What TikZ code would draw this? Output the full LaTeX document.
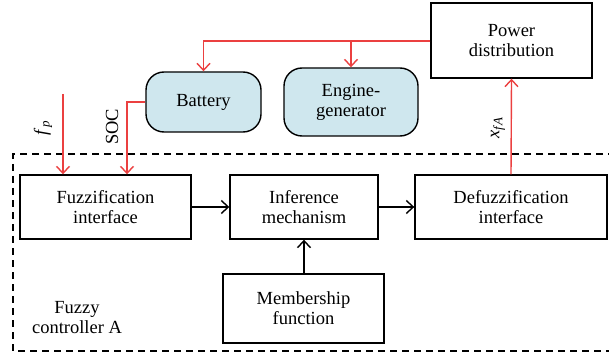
\documentclass[tikz,border=0pt]{standalone}
\usepackage{fontspec}
\setmainfont{Liberation Serif}
\usepackage{xcolor}
\usetikzlibrary{arrows.meta}

\definecolor{linkred}{RGB}{235,64,64}
\definecolor{unitblue}{RGB}{207,231,238}

\begin{document}
\begin{tikzpicture}[x=1pt,y=-1pt,
  every node/.style={font=\fontsize{18.5}{20}\selectfont,align=center,inner sep=0pt},
  block/.style={draw,line width=1.4pt,minimum width=#1},
  unit/.style={block=#1,fill=unitblue,rounded corners=18pt},
  sig/.style={draw=linkred,line width=1.4pt,-{Straight Barb[length=7pt,width=13pt]}},
  flow/.style={line width=1.4pt,-{Straight Barb[length=7pt,width=13pt]}}]
\useasboundingbox (0,0) rectangle (609,355);

% dashed frame of the controller (runs off the right edge)
\draw[line width=1.3pt,dash pattern=on 7pt off 5pt] (615,154) -- (13,154) -- (13,351) -- (615,351);

\node[block=161pt,minimum height=75pt] (power) at (511.5,40.5) {Power\\distribution};
\node[unit=115pt,minimum height=60pt] (battery) at (203.5,102) {Battery};
\node[unit=134pt,minimum height=68pt] (engine) at (351,102) {Engine-\\generator};

\node[block=171pt,minimum height=64pt] (fuzz) at (105.5,207) {Fuzzification\\interface};
\node[block=148pt,minimum height=64pt] (infer) at (304,207) {Inference\\mechanism};
\node[block=192pt,minimum height=64pt] (defuzz) at (511,207) {Defuzzification\\interface};
\node[block=161pt,minimum height=69pt] (member) at (303.5,308.5) {Membership\\function};

\node (ctrl) at (77,318) {Fuzzy\\controller A};

% red signals
\coordinate (fpin) at (63,94);
\coordinate (split) at (351,41);
\draw[sig] (power.west |- split) -| (battery.north);
\draw[sig] (split) -- (engine.north);
\draw[sig] (battery.west) -| (fuzz.north -| 127,0);
\draw[sig] (fpin) -- (fuzz.north -| fpin);
\draw[sig] (defuzz.north) -- (power.south);

\node[rotate=90] (fp) at (43,128) {\textit{f}\textsubscript{\textit{p}}};
\node[rotate=90] (soc) at (112,127) {SOC};
\node[rotate=90] (xfa) at (498,128) {\textit{x}\textsubscript{\textit{f\kern1pt A}}};

% black flow
\draw[flow] (fuzz.east) -- (infer.west);
\draw[flow] (infer.east) -- (defuzz.west);
\draw[flow] (member.north -| infer.south) -- (infer.south);
\end{tikzpicture}
\end{document}
